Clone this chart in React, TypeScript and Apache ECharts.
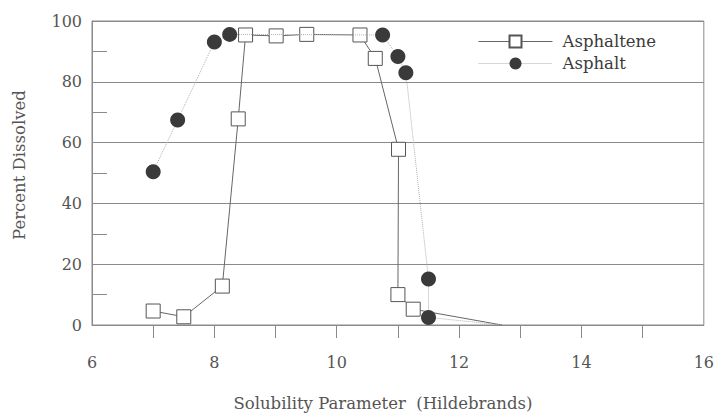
import React, { useEffect, useRef } from "react";
import * as echarts from "echarts";

const asphalteneX = [7.0, 7.5, 8.13, 8.39, 8.51, 9.01, 9.51, 10.38, 10.63, 11.01, 11.0, 11.25, 12.7];
const asphalteneY = [4.6, 2.7, 12.8, 67.8, 95.4, 95.1, 95.6, 95.4, 87.7, 57.8, 10.0, 5.2, 0];
const asphaltX = [7.0, 7.4, 8.0, 8.25, 10.75, 11.0, 11.13, 11.5, 11.5, 12.7];
const asphaltY = [50.4, 67.4, 93.1, 95.6, 95.4, 88.3, 83.0, 15.1, 2.5, 0];
// the last point of each series is where its line ends on the axis, drawn with no marker
const xTickValues = [7, 8, 9, 10, 11, 12, 13, 14, 15];
const xLabelValues = [6, 8, 10, 12, 14, 16];

const FONT = "DejaVu Serif";

function toData(xs: number[], ys: number[]) {
  return xs.map((x, i) =>
    i === xs.length - 1 ? { value: [x, ys[i]], symbol: "none" } : { value: [x, ys[i]] }
  );
}

export default function App() {
  const ref = useRef<HTMLDivElement>(null);
  useEffect(() => {
    document.body.style.margin = "0";
    if (!ref.current) return;
    const chart = echarts.init(ref.current, null, { renderer: "svg" });
    chart.setOption({
      animation: false,
      backgroundColor: "#ffffff",
      textStyle: { fontFamily: FONT },
      grid: { left: 92, right: 12, top: 21, bottom: 95, show: true, borderColor: "#8a8a8a", borderWidth: 1 },
      legend: {
        orient: "vertical",
        left: 478,
        top: 33,
        padding: 0,
        itemWidth: 74,
        itemHeight: 15,
        itemGap: 5,
        lineStyle: { width: 1 },
        textStyle: { fontFamily: FONT, fontSize: 16.5, color: "#3a3a3a", padding: [0, 0, 0, 5] },
        data: ["Asphaltene", "Asphalt"],
      },
      xAxis: {
        type: "value",
        min: 6,
        max: 16,
        interval: 2,
        name: "Solubility Parameter  (Hildebrands)",
        nameLocation: "middle",
        nameGap: 70,
        nameTextStyle: { fontFamily: FONT, fontSize: 16.5, color: "#555", padding: [0, 30, 0, 0] },
        axisLine: { show: true, lineStyle: { color: "#8a8a8a" } },
        axisTick: { show: true, length: 13, customValues: xTickValues, lineStyle: { color: "#8a8a8a" } },
        axisLabel: { customValues: xLabelValues, margin: 29, fontFamily: FONT, fontSize: 16, color: "#555" },
        splitLine: { show: false },
      },
      yAxis: {
        type: "value",
        min: 0,
        max: 100,
        interval: 20,
        name: "Percent Dissolved",
        nameLocation: "middle",
        nameGap: 64,
        nameRotate: 90,
        nameTextStyle: { fontFamily: FONT, fontSize: 16.5, color: "#555", padding: [0, 0, 0, 16] },
        axisLine: { show: true, lineStyle: { color: "#8a8a8a" } },
        axisTick: { show: false, inside: true },
        minorTick: { show: true, splitNumber: 2, length: 15, lineStyle: { color: "#8a8a8a" } },
        axisLabel: { margin: 10, fontFamily: FONT, fontSize: 16, color: "#555" },
        splitLine: { show: true, lineStyle: { color: "#8a8a8a" } },
      },
      series: [
        {
          name: "Asphaltene",
          type: "line",
          data: toData(asphalteneX, asphalteneY),
          symbol: "rect",
          symbolSize: 14,
          itemStyle: { color: "#ffffff", borderColor: "#555", borderWidth: 1 },
          lineStyle: { color: "#666", width: 1, type: "solid" },
          z: 3,
        },
        {
          name: "Asphalt",
          type: "line",
          data: toData(asphaltX, asphaltY),
          symbol: "circle",
          symbolSize: 15,
          itemStyle: { color: "#3a3a3a" },
          lineStyle: { color: "#b0b0b0", width: 1, type: "dotted" },
          z: 4,
        },
      ],
    });
    return () => chart.dispose();
  }, []);
  return <div ref={ref} style={{ width: 717, height: 420 }} />;
}
